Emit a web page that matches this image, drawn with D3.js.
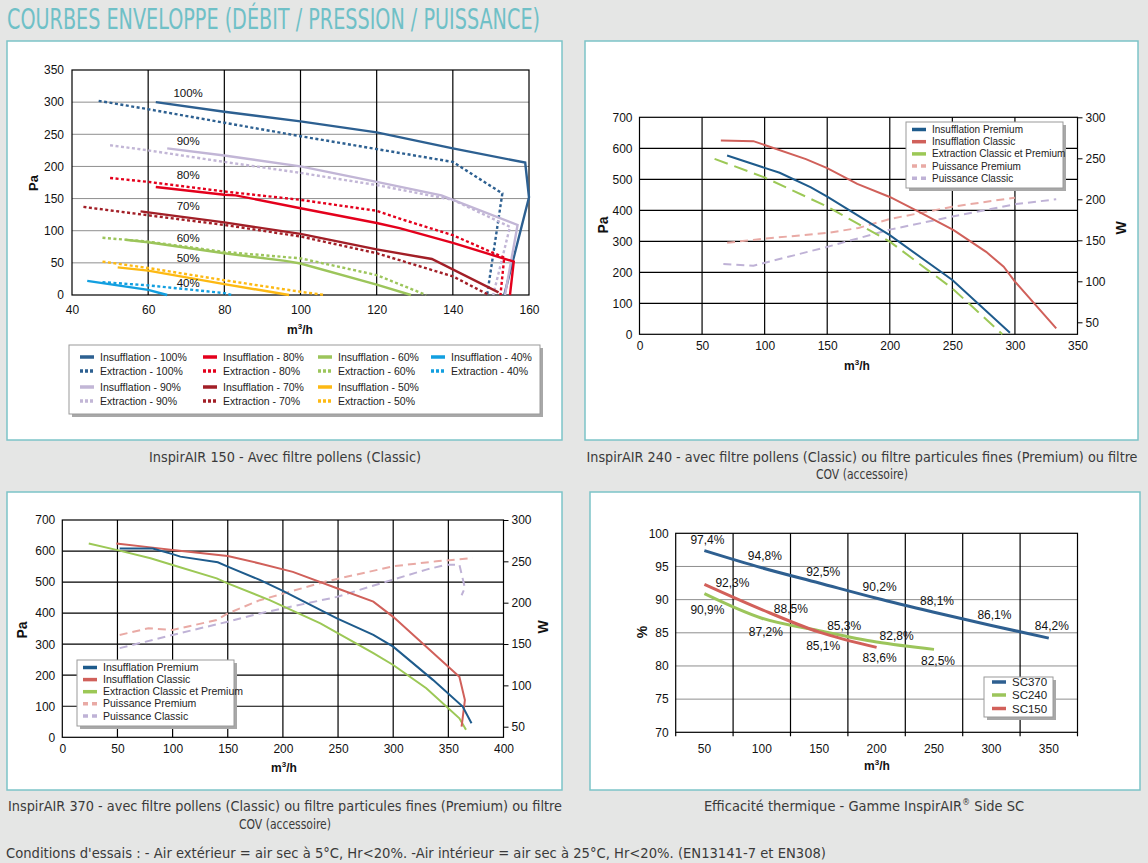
<!DOCTYPE html>
<html>
<head>
<meta charset="utf-8">
<script src="https://cdn.jsdelivr.net/npm/d3@7"></script>
<style>
body { margin: 0; background: #e5e6e5; }
svg { display: block; font-family: "Liberation Sans", Arial, sans-serif; }
.narrow { font-family: "Liberation Sans Narrow", "DejaVu Sans Condensed", "Liberation Sans", sans-serif; }
</style>
</head>
<body>
<svg id="chart" width="1148" height="863"></svg>
<script>
// ---------- data : InspirAIR 150 (debit m3/h, pression Pa)
var ins100 = [[62,300],[80,285],[100,270],[120,253],[140,228],[159,206],[160,152],[153.5,0]];
var ext100 = [[47,302],[60,289],[80,268],[100,247],[120,227],[140,207],[153,158],[149,0]];
var ins90 = [[65,228],[80,217],[100,200],[120,176],[137,155],[157,109],[153.7,0]];
var ext90 = [[50,233],[60,225],[80,207],[100,190],[120,171],[140,148],[155,106],[150.6,0]];
var ins80 = [[62,168],[80,156],[83,155],[100,135],[120,112],[126,104],[140,81],[156,52],[155,0]];
var ext80 = [[50,182],[60,176],[80,161],[100,148],[120,131],[127,117],[140,93],[153.5,58],[152.5,0]];
var ins70 = [[58,130],[80,113],[100,95],[120,71],[134.5,56],[152,4]];
var ext70 = [[43,137],[60,124],[80,109],[100,91],[120,65],[140,29],[149.5,0]];
var ins60 = [[54,86],[60,82],[80,65],[96,53],[100,49],[120,16],[129,0]];
var ext60 = [[48,89],[60,83],[80,67],[100,57],[120,31],[133,0]];
var ins50 = [[52,43],[60,38],[80,17],[97,0]];
var ext50 = [[48,52],[60,42],[80,23],[100,5],[106.5,0]];
var ins40 = [[44,22],[60,8],[65,0]];
var ext40 = [[48,20],[60,15],[80,3],[82,0]];
var pctLabels = ["100%","90%","80%","70%","60%","50%","40%"];
var pctLabelPa = [314,240,187,139,89,57,18];

// ---------- data : InspirAIR 240
var p240InsPremium = [[70,577],[100,537],[112,521],[137,474],[150,444],[200,320],[250,175],[296,5]];
var p240InsClassic = [[65,625],[91,623],[133,565],[150,536],[174,485],[200,443],[223,396],[251,336],[277,266],[291,218],[300,170],[333,19]];
var p240Ext = [[60,566],[100,506],[150,412],[200,299],[250,148],[290,0]];
var p240PuisPremium = [[70,147],[100,152],[150,159],[175,165],[200,176],[250,191],[300,202]];
var p240PuisClassic = [[67,121],[91,119],[150,142],[200,163],[250,179],[300,194],[333,200]];

// ---------- data : InspirAIR 370
var p370InsPremium = [[52,608],[82,608],[100,590],[107,582],[141,564],[150,550],[179,507],[200,472],[249,383],[282,330],[300,292],[336,185],[363,99],[371,45]];
var p370InsClassic = [[49,624],[82,611],[100,603],[150,584],[179,560],[209,533],[249,480],[282,437],[300,388],[330,292],[360,195],[365,120],[362,34]];
var p370Ext = [[24,624],[50,603],[80,577],[100,555],[140,512],[150,496],[188,442],[234,367],[282,271],[300,233],[330,158],[360,61],[366,24]];
var p370PuisPremium = [[52,161],[78,169],[100,167],[140,179],[150,187],[179,203],[240,226],[300,244],[339,250],[372,254]];
var p370PuisClassic = [[52,145],[100,161],[150,177],[179,187],[249,207],[300,228],[330,240],[348,246],[360,246],[365,218],[362,209]];

// ---------- data : efficacite thermique
var debits = [50,100,150,200,250,300,350];
var sc370 = [97.4,94.8,92.5,90.2,88.1,86.1,84.2];
var sc240 = [90.9,87.2,85.3,83.6,82.5];
var sc150 = [92.3,88.5,85.1,82.8];
var sc370LabelOff = [[3,-11],[3,-12],[4,-11],[3,-12],[3,-11],[3,-11],[3,-12]];
var sc240LabelOff = [[3,16],[4,14],[25,-5],[3,16],[4,11]];
var sc150LabelOff = [[28,-2],[29,-1],[4,14],[20,-12]];

var svg = d3.select("#chart");

// ---------- title, frames, captions
svg.append("text").attr("class","narrow")
  .attr("x",7).attr("y",29).attr("font-size",28).attr("fill","#6fc0c7")
  .attr("textLength",533).attr("lengthAdjust","spacingAndGlyphs")
  .text("COURBES ENVELOPPE (DÉBIT / PRESSION / PUISSANCE)");

[[7,41,555,399],[585,41,553,399],[7,492,555,298],[590,492,550,298]].forEach(function(f){
  svg.append("rect").attr("x",f[0]).attr("y",f[1]).attr("width",f[2]).attr("height",f[3])
    .attr("fill","#fff").attr("stroke","#7cc4c8").attr("stroke-width",1.5);
});

function caption(txt, cx, y, w) {
  return svg.append("text").attr("class","narrow").attr("x",cx).attr("y",y)
    .attr("text-anchor","middle").attr("font-size",14.5).attr("fill","#3a3a3a")
    .attr("textLength",w).attr("lengthAdjust","spacingAndGlyphs").text(txt);
}
caption("InspirAIR 150 - Avec filtre pollens (Classic)",285,462,272);
caption("InspirAIR 240 - avec filtre pollens (Classic) ou filtre particules fines (Premium) ou filtre",862,462,551);
caption("COV (accessoire)",862,479,92);
caption("InspirAIR 370 - avec filtre pollens (Classic) ou filtre particules fines (Premium) ou filtre",285,811,554);
caption("COV (accessoire)",285,829,92);
var eff = svg.append("text").attr("class","narrow").attr("x",864).attr("y",811)
  .attr("text-anchor","middle").attr("font-size",14.5).attr("fill","#3a3a3a");
eff.append("tspan").text("Efficacité thermique - Gamme InspirAIR");
eff.append("tspan").attr("font-size",9).attr("dy",-6).text("®");
eff.append("tspan").attr("dy",6).text(" Side SC");
svg.append("text").attr("class","narrow").attr("x",6).attr("y",858)
  .attr("font-size",14.5).attr("fill","#3a3a3a")
  .attr("textLength",820).attr("lengthAdjust","spacingAndGlyphs")
  .text("Conditions d'essais : - Air extérieur = air sec à 5°C, Hr<20%. -Air intérieur = air sec à 25°C, Hr<20%. (EN13141-7 et EN308)");

// ---------- helpers
function drawLine(g, x, y, data, color, width, dash) {
  var line = d3.line().x(function(d){ return x(d[0]); }).y(function(d){ return y(d[1]); });
  g.append("path").datum(data).attr("d", line).attr("fill","none")
    .attr("stroke", color).attr("stroke-width", width)
    .attr("stroke-dasharray", dash || null);
}
function axisText(sel) {
  sel.select(".domain").remove();
  sel.selectAll("text").attr("font-size",12).attr("fill","#111")
    .attr("font-family","'Liberation Sans', Arial, sans-serif");
}
function label(txt, x, y, rot, size) {
  var t = svg.append("text").attr("text-anchor","middle").attr("font-size",size || 13)
    .attr("font-weight","bold").attr("fill","#111")
    .attr("transform","translate(" + x + "," + y + ")" + (rot ? " rotate(" + rot + ")" : ""))
    .attr("dy","0.35em").text(txt);
  return t;
}
function unit(x, y) {
  var t = label("", x, y, 0, 12);
  t.append("tspan").text("m");
  t.append("tspan").attr("font-size",8).attr("dy",-5).text("3");
  t.append("tspan").attr("dy",5).text("/h");
}
function legendBox(x, y, w, h) {
  svg.append("rect").attr("x",x+3).attr("y",y+3).attr("width",w).attr("height",h).attr("fill","#a8a8a8");
  svg.append("rect").attr("x",x).attr("y",y).attr("width",w).attr("height",h)
    .attr("fill","#fff").attr("stroke","#9a9a9a").attr("stroke-width",1);
}
function legendItem(x, y, txt, color, dash, size) {
  svg.append("line").attr("x1",x).attr("x2",x+14).attr("y1",y).attr("y2",y)
    .attr("stroke",color).attr("stroke-width",3.5).attr("stroke-dasharray",dash || null);
  svg.append("text").attr("x",x+20).attr("y",y).attr("dy","0.35em")
    .attr("font-size",size || 10.5).attr("fill","#222").text(txt);
}

// ---------- panel 1 : InspirAIR 150
(function(){
  var x = d3.scaleLinear().domain([40,160]).range([72,529]);
  var y = d3.scaleLinear().domain([0,350]).range([295,70]);
  var g = svg.append("g");
  g.selectAll(".hg").data(d3.range(50,350,50)).join("line")
    .attr("x1",x(40)).attr("x2",x(160)).attr("y1",y).attr("y2",y)
    .attr("stroke","#8e8e8e").attr("stroke-width",1);
  g.selectAll(".vg").data(d3.range(60,160,20)).join("line")
    .attr("x1",x).attr("x2",x).attr("y1",y(0)).attr("y2",y(350))
    .attr("stroke","#000").attr("stroke-width",1.2);
  g.append("rect").attr("x",x(40)).attr("y",y(350)).attr("width",x(160)-x(40)).attr("height",y(0)-y(350))
    .attr("fill","none").attr("stroke","#000").attr("stroke-width",1.2);

  var series = [
    [ins100,"#2d6091"],[ext100,"#2d6091",1],[ins90,"#c2b6d6"],[ext90,"#c2b6d6",1],
    [ins80,"#e4001c"],[ext80,"#e4001c",1],[ins70,"#a21f27"],[ext70,"#a21f27",1],
    [ins60,"#9cc55b"],[ext60,"#9cc55b",1],[ins50,"#fdb913"],[ext50,"#fdb913",1],
    [ins40,"#129fe0"],[ext40,"#129fe0",1]
  ];
  series.forEach(function(s){ drawLine(g, x, y, s[0], s[1], 2.4, s[2] ? "3,2.5" : null); });

  g.selectAll(".pl").data(pctLabels).join("text")
    .attr("x",x(70.5)).attr("y",function(d,i){ return y(pctLabelPa[i]); })
    .attr("dy","0.35em").attr("text-anchor","middle").attr("font-size",11.5).attr("fill","#111")
    .text(function(d){ return d; });

  g.append("g").attr("transform","translate(" + x(40) + ",0)")
    .call(d3.axisLeft(y).tickValues(d3.range(0,351,50)).tickSize(0).tickPadding(8)).call(axisText);
  g.append("g").attr("transform","translate(0," + y(0) + ")")
    .call(d3.axisBottom(x).tickValues(d3.range(40,161,20)).tickSize(0).tickPadding(10)).call(axisText);
  label("Pa", 33, 183, -90);
  unit(300, 330);

  legendBox(69, 345, 471, 69);
  var cols = [80, 203, 318, 431];
  var items = [
    [0,0,"Insufflation - 100%","#2d6091"],[0,1,"Extraction - 100%","#2d6091",1],
    [0,2,"Insufflation - 90%","#c2b6d6"],[0,3,"Extraction - 90%","#c2b6d6",1],
    [1,0,"Insufflation - 80%","#e4001c"],[1,1,"Extraction - 80%","#e4001c",1],
    [1,2,"Insufflation - 70%","#a21f27"],[1,3,"Extraction - 70%","#a21f27",1],
    [2,0,"Insufflation - 60%","#9cc55b"],[2,1,"Extraction - 60%","#9cc55b",1],
    [2,2,"Insufflation - 50%","#fdb913"],[2,3,"Extraction - 50%","#fdb913",1],
    [3,0,"Insufflation - 40%","#129fe0"],[3,1,"Extraction - 40%","#129fe0",1]
  ];
  var rows = [357, 371, 387, 401];
  items.forEach(function(it){
    legendItem(cols[it[0]], rows[it[1]], it[2], it[3], it[4] ? "3,2" : null, 10.5);
  });
})();

// ---------- panels 2 & 3 : pression + puissance
function pressurePanel(cfg) {
  var x = d3.scaleLinear().domain([0,cfg.xmax]).range(cfg.xr);
  var y = d3.scaleLinear().domain([0,700]).range(cfg.yr);
  var w = d3.scaleLinear().domain([50,300]).range(cfg.wr);
  var g = svg.append("g");
  g.selectAll(".hg").data(d3.range(100,700,100)).join("line")
    .attr("x1",cfg.xr[0]).attr("x2",cfg.xr[1]).attr("y1",y).attr("y2",y)
    .attr("stroke","#000").attr("stroke-width",1.2);
  g.selectAll(".vg").data(d3.range(50,cfg.xmax,50)).join("line")
    .attr("x1",x).attr("x2",x).attr("y1",cfg.yr[0]).attr("y2",cfg.yr[1])
    .attr("stroke","#000").attr("stroke-width",1.2);
  g.append("rect").attr("x",cfg.xr[0]).attr("y",cfg.yr[1]).attr("width",cfg.xr[1]-cfg.xr[0])
    .attr("height",cfg.yr[0]-cfg.yr[1]).attr("fill","none").attr("stroke","#000").attr("stroke-width",1.2);

  drawLine(g, x, w, cfg.puisPremium, "#e9aaa5", 2, "8,5");
  drawLine(g, x, w, cfg.puisClassic, "#bfb2d6", 2, "8,5");
  drawLine(g, x, y, cfg.ext, "#9cc856", 2, cfg.extDash);
  drawLine(g, x, y, cfg.insClassic, "#d0605a", 2);
  drawLine(g, x, y, cfg.insPremium, "#1e5b8c", 2);

  g.append("g").attr("transform","translate(" + cfg.xr[0] + ",0)")
    .call(d3.axisLeft(y).tickValues(d3.range(0,701,100)).tickSize(0).tickPadding(7)).call(axisText);
  g.append("g").attr("transform","translate(" + cfg.xr[1] + ",0)")
    .call(d3.axisRight(w).tickValues(d3.range(50,301,50)).tickSize(5).tickPadding(3)).call(axisText)
    .selectAll("line").attr("stroke","#000");
  g.append("g").attr("transform","translate(0," + cfg.yr[0] + ")")
    .call(d3.axisBottom(x).tickValues(d3.range(0,cfg.xmax+1,50)).tickSize(0).tickPadding(7)).call(axisText);
  label("Pa", cfg.pa[0], cfg.pa[1], -90, 14);
  label("W", cfg.wl[0], cfg.wl[1], -90, 14);
  unit(cfg.unit[0], cfg.unit[1]);

  var L = cfg.legend;
  legendBox(L[0], L[1], L[2], L[3]);
  var names = ["Insufflation Premium","Insufflation Classic","Extraction Classic et Premium","Puissance Premium","Puissance Classic"];
  var cols = ["#1e5b8c","#d0605a","#9cc856","#e9aaa5","#bfb2d6"];
  names.forEach(function(n,i){
    legendItem(L[0]+6, L[1]+7.5+i*L[4], n, cols[i], i > 2 ? "5,4" : null, cfg.legendSize);
  });
}

pressurePanel({
  xmax: 350, xr: [639.5,1077.5], yr: [334.3,117.3], wr: [322.3,117.3],
  insPremium: p240InsPremium, insClassic: p240InsClassic, ext: p240Ext,
  puisPremium: p240PuisPremium, puisClassic: p240PuisClassic, extDash: "14,7",
  pa: [603,225], wl: [1121,228], unit: [857,366],
  legend: [906,122,157,66,12.2], legendSize: 10
});
pressurePanel({
  xmax: 400, xr: [62.3,503.5], yr: [737.3,520], wr: [726.7,520],
  insPremium: p370InsPremium, insClassic: p370InsClassic, ext: p370Ext,
  puisPremium: p370PuisPremium, puisClassic: p370PuisClassic, extDash: null,
  pa: [22,630], wl: [543,627], unit: [284,768],
  legend: [77,660,157,66,12.1], legendSize: 10.5
});

// ---------- panel 4 : efficacite thermique
(function(){
  var x = d3.scaleBand().domain(debits).range([675.7,1077.5]);
  var y = d3.scaleLinear().domain([70,100]).range([732.3,533.3]);
  var g = svg.append("g");
  var cx = function(d){ return x(d) + x.bandwidth()/2; };
  g.selectAll(".hg").data(d3.range(75,100,5)).join("line")
    .attr("x1",675.7).attr("x2",1077.5).attr("y1",y).attr("y2",y)
    .attr("stroke","#8e8e8e").attr("stroke-width",1);
  g.selectAll(".vg").data(debits.slice(1)).join("line")
    .attr("x1",x).attr("x2",x).attr("y1",y(70)+4).attr("y2",y(100))
    .attr("stroke","#000").attr("stroke-width",1.2);
  g.append("rect").attr("x",675.7).attr("y",y(100)).attr("width",1077.5-675.7).attr("height",y(70)-y(100))
    .attr("fill","none").attr("stroke","#000").attr("stroke-width",1.2);
  [675.7,1077.5].forEach(function(px){
    g.append("line").attr("x1",px).attr("x2",px).attr("y1",y(70)).attr("y2",y(70)+4).attr("stroke","#000").attr("stroke-width",1.2);
  });

  var sets = [[sc370,"#2e5f90",sc370LabelOff],[sc240,"#9cc55b",sc240LabelOff],[sc150,"#d2605a",sc150LabelOff]];
  var line = d3.line().curve(d3.curveMonotoneX)
    .x(function(d,i){ return cx(debits[i]); }).y(function(d){ return y(d); });
  sets.forEach(function(s){
    g.append("path").datum(s[0]).attr("d",line).attr("fill","none").attr("stroke",s[1]).attr("stroke-width",3);
  });
  sets.forEach(function(s){
    g.selectAll(null).data(s[0]).join("text")
      .attr("x",function(d,i){ return cx(debits[i]) + s[2][i][0]; })
      .attr("y",function(d,i){ return y(d) + s[2][i][1]; })
      .attr("dy","0.35em").attr("text-anchor","middle").attr("font-size",12).attr("fill","#111")
      .text(function(d){ return d.toFixed(1).replace(".",",") + "%"; });
  });

  g.append("g").attr("transform","translate(675.7,0)")
    .call(d3.axisLeft(y).tickValues(d3.range(70,101,5)).tickSize(0).tickPadding(7)).call(axisText);
  g.append("g").attr("transform","translate(0," + (y(70)+4) + ")")
    .call(d3.axisBottom(x).tickSize(0).tickPadding(8)).call(axisText);
  label("%", 642, 632, -90, 14);
  unit(877, 766);

  legendBox(984, 677, 69, 40);
  legendItem(992, 682, "SC370", "#2e5f90", null, 11.5);
  legendItem(992, 695, "SC240", "#9cc55b", null, 11.5);
  legendItem(992, 708.5, "SC150", "#d2605a", null, 11.5);
})();
</script>
</body>
</html>
